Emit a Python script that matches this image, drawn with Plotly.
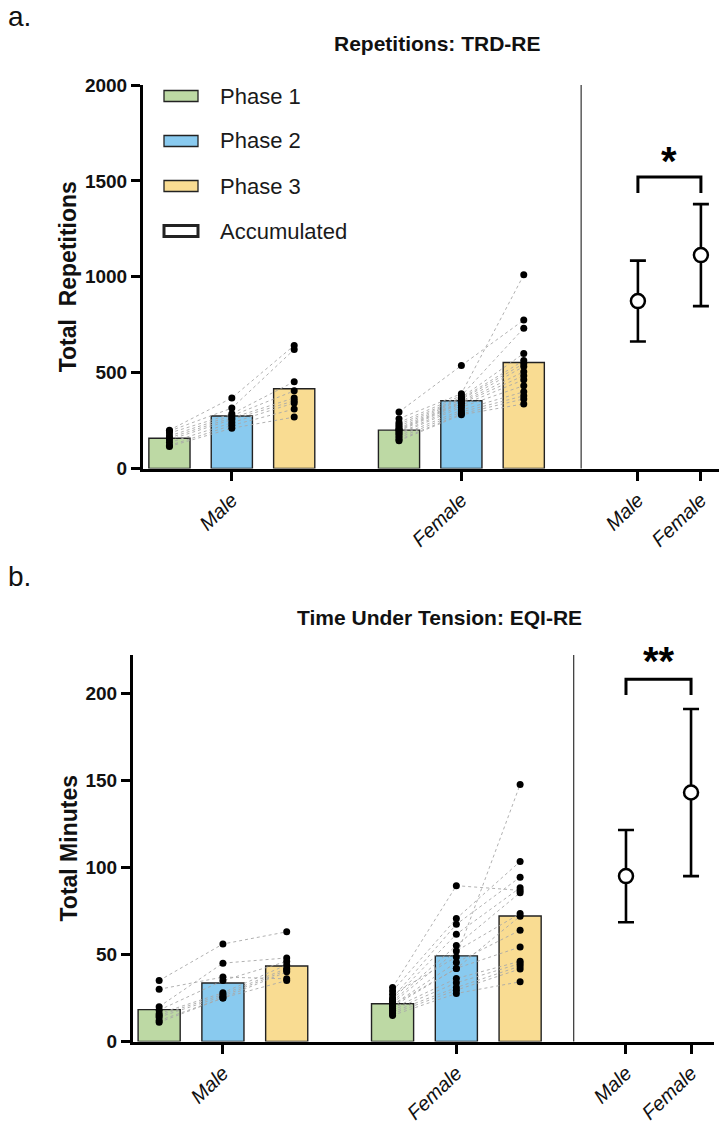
import plotly.graph_objects as go

# ---------------- data ----------------
groups = ["Male", "Female"]
phases = ["Phase 1", "Phase 2", "Phase 3"]
acc_label = "Accumulated"
phase_colors = ["#bdd9a4", "#89caef", "#f9dc92"]

# Panel a: Repetitions (TRD-RE)
rep_title = "Repetitions: TRD-RE"
rep_ytitle = "Total\u00a0 Repetitions"
rep_yticks = [0, 500, 1000, 1500, 2000]
rep_bar_male = [158, 274, 416]
rep_bar_female = [200, 353, 553]
rep_male_p1 = [200, 195, 185, 170, 160, 150, 135, 120, 115]
rep_male_p2 = [368, 315, 285, 275, 265, 255, 240, 225, 210]
rep_male_p3 = [642, 621, 453, 405, 368, 353, 342, 310, 268]
rep_female_p1 = [295, 260, 240, 230, 220, 210, 205, 200, 195, 185, 180, 170, 160, 150, 145]
rep_female_p2 = [537, 390, 380, 370, 365, 360, 350, 345, 340, 330, 320, 305, 295, 285, 280]
rep_female_p3 = [774, 1010, 732, 600, 563, 547, 532, 505, 484, 463, 432, 400, 379, 363, 337]
rep_acc_mean = [873, 1113]
rep_acc_sd = [211, 266]
rep_sig = "*"
rep_bracket = [1437, 1520]   # bracket foot / top level
rep_sig_y = 1478

# Panel b: Time under tension (EQI-RE)
tut_title = "Time Under Tension: EQI-RE"
tut_ytitle = "Total Minutes"
tut_yticks = [0, 50, 100, 150, 200]
tut_bar_male = [18.3, 33.6, 43.4]
tut_bar_female = [21.7, 49.2, 72.1]
tut_male_p1 = [35, 30, 20, 18, 16, 15, 14, 12, 11]
tut_male_p2 = [56, 37, 45, 35, 28, 27, 26, 25, 25]
tut_male_p3 = [63, 36, 48, 46, 44, 42, 41, 40, 35]
tut_female_p1 = [31, 29, 27, 25, 24, 23, 22, 21, 21, 20, 19, 18, 17, 16, 15]
tut_female_p2 = [89.5, 70.6, 48.6, 67.3, 61.6, 55.1, 52, 45.4, 41.9, 42, 36.2, 33.7, 31, 29.5, 27.6]
tut_female_p3 = [86.8, 103.4, 147.6, 94.4, 88.3, 85.5, 73.5, 63.9, 72, 54.3, 46.1, 44.8, 43.3, 41.7, 34.3]
tut_acc_mean = [95, 143]
tut_acc_sd = [26.5, 48]
tut_sig = "**"
tut_bracket = [199, 208]
tut_sig_y = 205

# ---------------- layout helpers ----------------
W, H = 719, 1125
FONT = "Liberation Sans, Arial, Helvetica, sans-serif"


def py(v):
    return 1 - v / H


def px(v):
    return v / W


panels = [
    dict(xa="x", ya="y", xdom=[px(143), 1.0], ydom=[py(468.5), py(85)],
         xr=[-1.424, 7.81], yr=[0, 2000], gpos=[0, 3.68], apos=[6.51, 7.52], div=5.6,
         bars=[rep_bar_male, rep_bar_female],
         pts=[[rep_male_p1, rep_male_p2, rep_male_p3], [rep_female_p1, rep_female_p2, rep_female_p3]],
         am=rep_acc_mean, asd=rep_acc_sd, sig=rep_sig, br=rep_bracket, sigy=rep_sig_y,
         yt=rep_yticks, ytitle=rep_ytitle),
    dict(xa="x2", ya="y2", xdom=[px(133), px(714)], ydom=[py(1041.5), py(655)],
         xr=[-1.41, 7.70], yr=[0, 222], gpos=[0, 3.66], apos=[6.32, 7.34], div=5.5,
         bars=[tut_bar_male, tut_bar_female],
         pts=[[tut_male_p1, tut_male_p2, tut_male_p3], [tut_female_p1, tut_female_p2, tut_female_p3]],
         am=tut_acc_mean, asd=tut_acc_sd, sig=tut_sig, br=tut_bracket, sigy=tut_sig_y,
         yt=tut_yticks, ytitle=tut_ytitle),
]

BAR_W = 0.66
fig = go.Figure()
shapes = []
annotations = []

for p in panels:
    xa, ya = p["xa"], p["ya"]
    for gi, g in enumerate(groups):
        c = p["gpos"][gi]
        xs = [c + k - 1 for k in range(3)]
        for k in range(3):
            fig.add_trace(go.Bar(
                x=[xs[k]], y=[p["bars"][gi][k]], width=BAR_W, name=phases[k],
                marker=dict(color=phase_colors[k], line=dict(color="#222222", width=1.4)),
                xaxis=xa, yaxis=ya, showlegend=False, hoverinfo="skip"))
        series = p["pts"][gi]
        n = len(series[0])
        lx, ly = [], []
        for s in range(n):
            lx += xs + [None]
            ly += [series[0][s], series[1][s], series[2][s], None]
        fig.add_trace(go.Scatter(
            x=lx, y=ly, mode="lines", line=dict(color="#a8a8a8", width=0.9, dash="dot"),
            xaxis=xa, yaxis=ya, showlegend=False, hoverinfo="skip"))
        dx, dy = [], []
        for k in range(3):
            dx += [xs[k]] * n
            dy += series[k]
        fig.add_trace(go.Scatter(
            x=dx, y=dy, mode="markers", marker=dict(color="black", size=7),
            xaxis=xa, yaxis=ya, showlegend=False, hoverinfo="skip"))
    # accumulated
    fig.add_trace(go.Scatter(
        x=p["apos"], y=p["am"], mode="markers",
        marker=dict(size=14, color="white", line=dict(color="black", width=2.5)),
        error_y=dict(type="data", array=p["asd"], color="black", thickness=2.6, width=8),
        xaxis=xa, yaxis=ya, showlegend=False, hoverinfo="skip"))
    # bracket
    a0, a1 = p["apos"]
    lo, hi = p["br"]
    fig.add_trace(go.Scatter(
        x=[a0, a0, a1, a1], y=[lo, hi, hi, lo], mode="lines",
        line=dict(color="black", width=3), xaxis=xa, yaxis=ya,
        showlegend=False, hoverinfo="skip"))
    annotations.append(dict(
        x=(a0 + a1) / 2, y=p["sigy"], xref=xa, yref=ya, text="<b>" + p["sig"] + "</b>",
        showarrow=False, font=dict(family=FONT, size=40, color="black"),
        xanchor="center", yanchor="bottom"))
    # divider
    shapes.append(dict(type="line", xref=xa, yref=ya + " domain", x0=p["div"], x1=p["div"],
                       y0=0, y1=1, line=dict(color="#333333", width=1.2)))

# legend (manual, top panel)
leg_items = phases + [acc_label]
leg_fill = phase_colors + ["white"]
leg_lw = [1.3, 1.3, 1.3, 3]
for i, (lab, col, lw) in enumerate(zip(leg_items, leg_fill, leg_lw)):
    yc = 96 + 45 * i
    shapes.append(dict(type="rect", xref="paper", yref="paper",
                       x0=px(164), x1=px(198), y0=py(yc + 5.5), y1=py(yc - 5.5),
                       fillcolor=col, line=dict(color="#222222", width=lw)))
    annotations.append(dict(x=px(218), y=py(yc), xref="paper", yref="paper", text=lab,
                            showarrow=False, xanchor="left", yanchor="middle",
                            font=dict(family=FONT, size=22, color="#1a1a1a")))

# titles and panel letters
annotations += [
    dict(x=px(437), y=py(43), xref="paper", yref="paper", text="<b>" + rep_title + "</b>",
         showarrow=False, xanchor="center", yanchor="middle",
         font=dict(family=FONT, size=21, color="#111111")),
    dict(x=px(440), y=py(617), xref="paper", yref="paper", text="<b>" + tut_title + "</b>",
         showarrow=False, xanchor="center", yanchor="middle",
         font=dict(family=FONT, size=21, color="#111111")),
    dict(x=px(6), y=py(16), xref="paper", yref="paper", text="a.",
         showarrow=False, xanchor="left", yanchor="middle",
         font=dict(family=FONT, size=28, color="#111111")),
    dict(x=px(6), y=py(576), xref="paper", yref="paper", text="b.",
         showarrow=False, xanchor="left", yanchor="middle",
         font=dict(family=FONT, size=28, color="#111111")),
]

layout = dict(
    width=W, height=H, margin=dict(l=0, r=0, t=0, b=0),
    paper_bgcolor="white", plot_bgcolor="white", barmode="overlay",
    showlegend=False, shapes=shapes, annotations=annotations,
    font=dict(family=FONT, color="#111111"),
)

for i, p in enumerate(panels):
    sx = "" if i == 0 else str(i + 1)
    layout["xaxis" + sx] = dict(
        domain=p["xdom"], range=p["xr"], anchor=p["ya"],
        showline=True, linecolor="black", linewidth=3,
        ticks="outside", ticklen=9, tickwidth=3, tickcolor="black",
        tickvals=p["gpos"] + p["apos"], ticktext=groups + groups, tickangle=-44,
        tickfont=dict(family=FONT, size=20, style="italic", color="#111111"),
        showgrid=False, zeroline=False, fixedrange=True, automargin=False)
    layout["yaxis" + sx] = dict(
        domain=p["ydom"], range=p["yr"], anchor=p["xa"],
        showline=True, linecolor="black", linewidth=3,
        ticks="outside", ticklen=9, tickwidth=2.5, tickcolor="black",
        tickvals=p["yt"], tickfont=dict(family=FONT, size=19, weight="bold", color="#111111"),
        title=dict(text="<b>" + p["ytitle"] + "</b>", standoff=2,
                   font=dict(family=FONT, size=23, color="#111111")),
        showgrid=False, zeroline=False, fixedrange=True, automargin=False)

fig.update_layout(**layout)
fig.write_html("out.html", config={"displayModeBar": False},
               post_script="document.body.style.margin='0';document.body.style.overflow='hidden';")
